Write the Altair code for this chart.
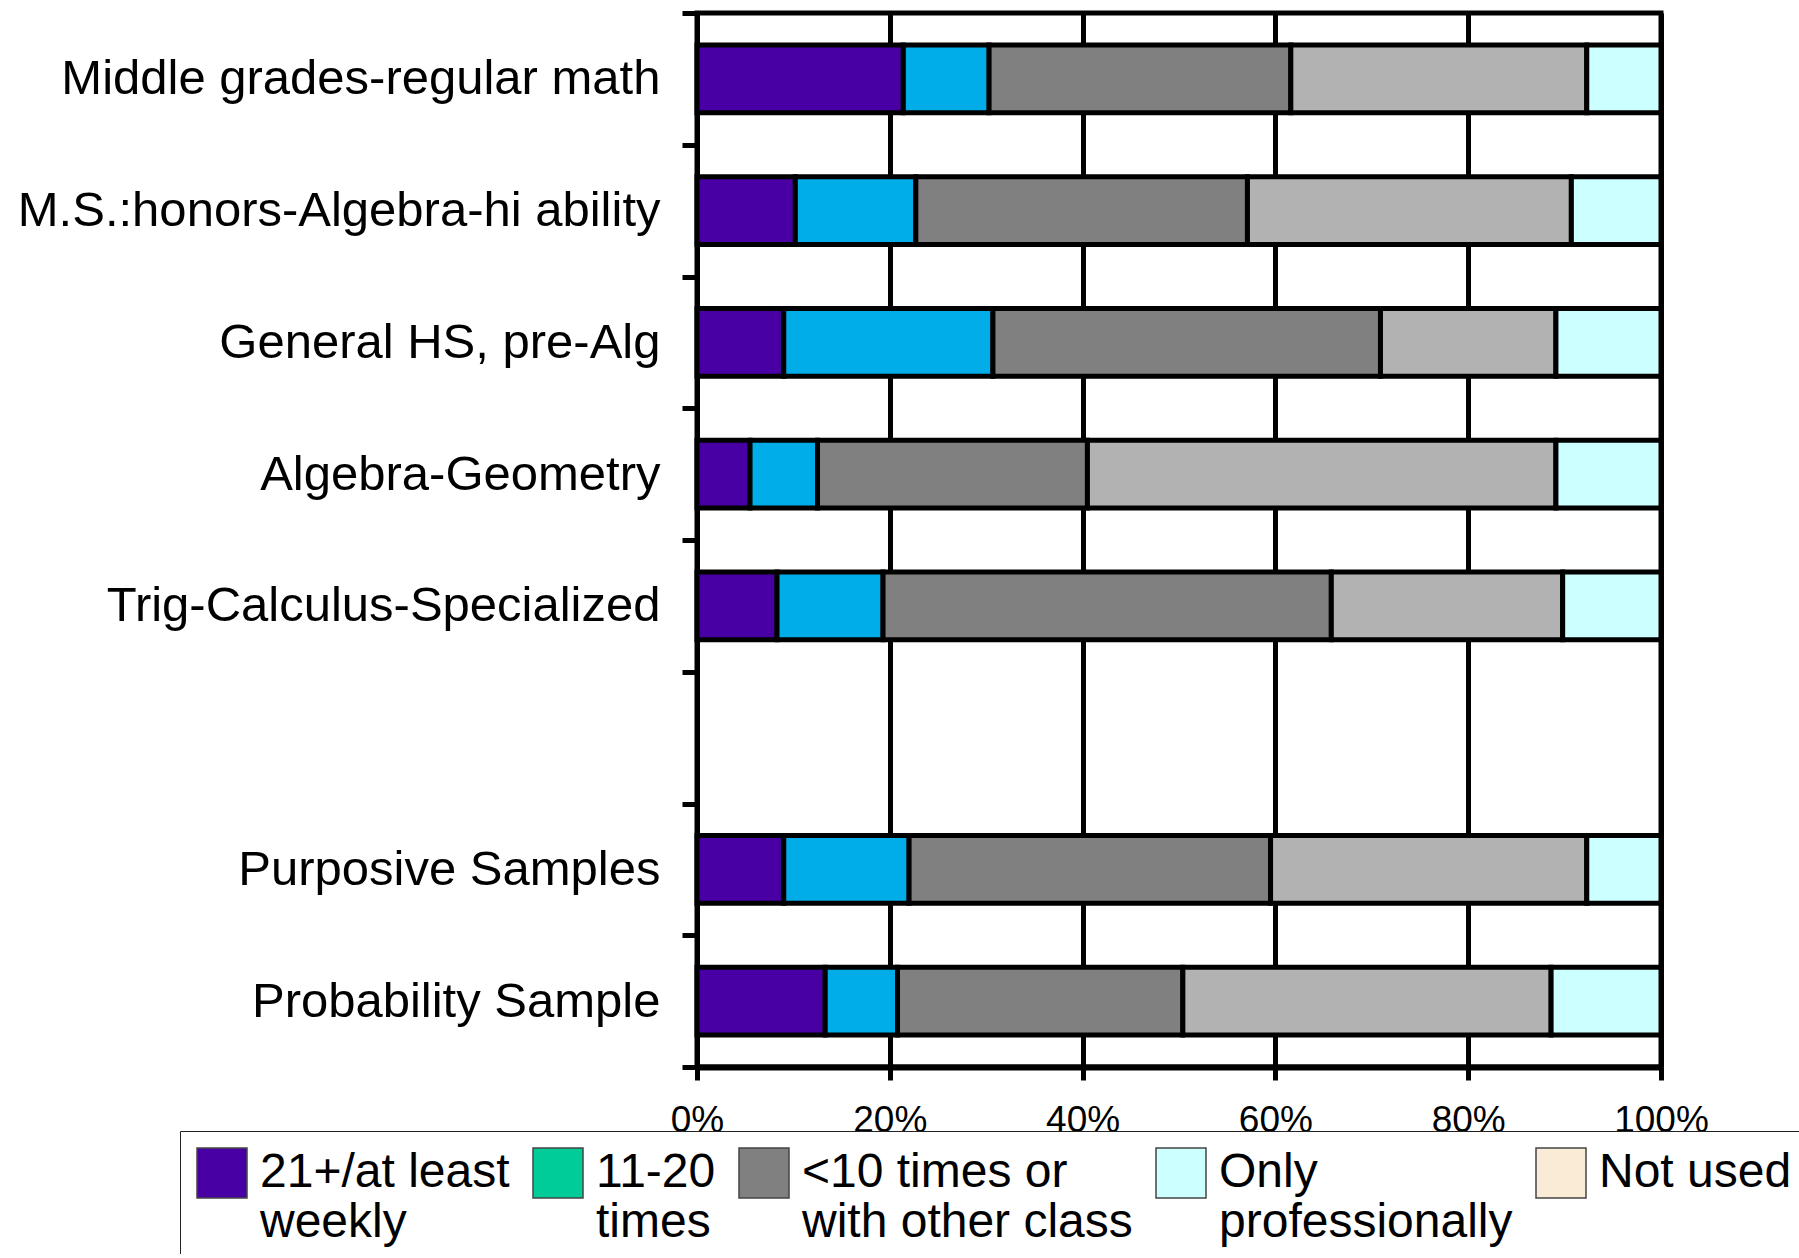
import altair as alt
import pandas as pd

# Course groups on the y axis; " " is an empty spacer row between the two blocks
groups = [
    "Middle grades-regular math",
    "M.S.:honors-Algebra-hi ability",
    "General HS, pre-Alg",
    "Algebra-Geometry",
    "Trig-Calculus-Specialized",
    " ",
    "Purposive Samples",
    "Probability Sample",
]
bar_groups = [g for g in groups if g.strip()]

# Frequency-of-use categories (stack order, left to right)
series = [
    "21+/at least weekly",
    "11-20 times",
    "<10 times or with other class",
    "Only professionally",
    "Not used",
]
bar_colors = ["#4800A4", "#00ADE8", "#808080", "#B2B2B2", "#CCFFFF"]

# Percent of respondents per group, one list per category
weekly = [21.4, 10.2, 9.0, 5.5, 8.3, 9.0, 13.3]
times_11_20 = [8.9, 12.5, 21.7, 7.0, 11.0, 13.0, 7.5]
under_10 = [31.3, 34.4, 40.2, 28.0, 46.5, 37.5, 29.6]
professionally = [30.7, 33.6, 18.2, 48.6, 24.0, 32.8, 38.2]
not_used = [7.7, 9.3, 10.9, 10.9, 10.2, 7.7, 11.4]

# Legend entries ("|" marks a line break) and their swatch colours
legend_labels = [
    "21+/at least|weekly",
    "11-20|times",
    "<10 times or|with other class",
    "Only|professionally",
    "Not used| ",
]
legend_colors = ["#4800A4", "#00CC99", "#808080", "#CCFFFF", "#FAEBD7"]

tick_values = [0, 20, 40, 60, 80, 100]

FONT = "Liberation Sans, Arial, sans-serif"

rows = []
for i, name in enumerate(series):
    vals = [weekly, times_11_20, under_10, professionally, not_used][i]
    for g, v in zip(bar_groups, vals):
        rows.append({"group": g, "series": name, "idx": i, "value": v})
df = pd.DataFrame(rows)

bars = alt.Chart(df).mark_bar(
    stroke="black", strokeWidth=5, height=alt.RelativeBandSize(0.514)
).encode(
    x=alt.X(
        "value:Q",
        stack="zero",
        scale=alt.Scale(domain=[0, 100], nice=False),
        axis=alt.Axis(
            values=tick_values,
            labelExpr="datum.value + '%'",
            title=None,
            grid=True,
            gridColor="black",
            gridWidth=5,
            gridOpacity=1,
            domainColor="black",
            domainWidth=6,
            tickColor="black",
            tickWidth=5,
            tickSize=13,
            labelFont=FONT,
            labelFontSize=37,
            labelColor="black",
            labelPadding=22,
            labelOverlap=False,
            labelFlush=False,
        ),
    ),
    y=alt.Y(
        "group:N",
        sort=groups,
        scale=alt.Scale(domain=groups, paddingInner=0, paddingOuter=0),
        axis=alt.Axis(
            title=None,
            grid=False,
            tickBand="extent",
            domainColor="black",
            domainWidth=5,
            tickColor="black",
            tickWidth=5,
            tickSize=15,
            labelFont=FONT,
            labelFontSize=49,
            labelColor="black",
            labelPadding=22,
            labelLimit=2000,
        ),
    ),
    color=alt.Color(
        "series:N",
        scale=alt.Scale(domain=series, range=bar_colors),
        legend=None,
    ),
    order=alt.Order("idx:Q"),
)

legend_df = pd.DataFrame({"entry": legend_labels})
legend_layer = (
    alt.Chart(legend_df)
    .mark_square(opacity=1)
    .encode(
        color=alt.Color(
            "entry:N",
            scale=alt.Scale(domain=legend_labels, range=legend_colors),
            legend=alt.Legend(
                title=None,
                orient="none",
                legendX=-517,
                legendY=1118,
                direction="horizontal",
                columns=5,
                padding=16,
                strokeColor="#222222",
                fillColor="white",
                symbolType="square",
                symbolSize=2500,
                symbolStrokeColor="#444444",
                symbolStrokeWidth=1.5,
                symbolOpacity=1,
                labelExpr="split(datum.label, '|')",
                labelFont=FONT,
                labelFontSize=48,
                labelColor="black",
                labelLimit=2000,
                labelOffset=12,
                columnPadding=20,
            ),
        )
    )
    .transform_filter("false")
)

chart = (
    alt.layer(bars, legend_layer)
    .resolve_scale(color="independent")
    .properties(
        width=964,
        height=1054,
        padding={"left": 697, "top": 13, "right": 138, "bottom": 187},
        autosize=alt.AutoSizeParams(type="none"),
        background="white",
    )
    .configure_view(stroke="black", strokeWidth=5)
)

chart.save("out.html", embed_options={"renderer": "svg", "actions": False})
